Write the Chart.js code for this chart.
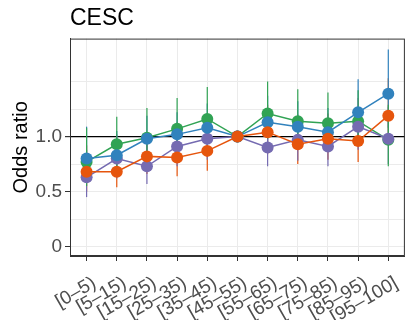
<!DOCTYPE html>
<html>
<head>
<meta charset="utf-8">
<script src="https://cdn.jsdelivr.net/npm/chart.js@4"></script>
<style>
  body { margin: 0; background: #fff; }
  canvas { display: block; }
</style>
</head>
<body>
<canvas id="orChart" width="411" height="320"></canvas>
<script>
// categories (percentile bins)
var categories = ['[0–5)', '[5–15)', '[15–25)', '[25–35)', '[35–45)', '[45–55)', '[55–65)', '[65–75)', '[75–85)', '[85–95)', '[95–100]'];

// odds ratios and 95% CI per series
var blueOR = [0.80, 0.83, 0.98, 1.02, 1.08, 1.00, 1.13, 1.09, 1.04, 1.22, 1.39];
var blueLo = [0.60, 0.66, 0.80, 0.85, 0.90, 1.00, 0.93, 0.90, 0.86, 0.98, 1.08];
var blueHi = [1.09, 1.05, 1.19, 1.22, 1.30, 1.00, 1.37, 1.32, 1.26, 1.52, 1.79];

var orangeOR = [0.68, 0.68, 0.82, 0.81, 0.87, 1.00, 1.04, 0.93, 0.98, 0.96, 1.19];
var orangeLo = [0.50, 0.54, 0.66, 0.64, 0.69, 1.00, 0.84, 0.75, 0.79, 0.77, 0.93];
var orangeHi = [0.92, 0.86, 1.02, 1.02, 1.09, 1.00, 1.29, 1.16, 1.21, 1.19, 1.53];

var greenOR = [0.77, 0.93, 0.99, 1.07, 1.16, 1.00, 1.21, 1.14, 1.12, 1.14, 0.97];
var greenLo = [0.55, 0.72, 0.78, 0.85, 0.93, 1.00, 0.98, 0.91, 0.90, 0.92, 0.73];
var greenHi = [1.08, 1.18, 1.26, 1.35, 1.45, 1.00, 1.50, 1.43, 1.40, 1.42, 1.29];

var purpleOR = [0.63, 0.80, 0.73, 0.91, 0.98, 1.00, 0.90, 0.97, 0.91, 1.09, 0.98];
var purpleLo = [0.45, 0.62, 0.57, 0.73, 0.79, 1.00, 0.73, 0.78, 0.73, 0.88, 0.75];
var purpleHi = [0.88, 1.02, 0.93, 1.13, 1.21, 1.00, 1.11, 1.20, 1.13, 1.35, 1.27];

var yTicks = [0, 0.25, 0.5, 0.75, 1, 1.25, 1.5];
var yLabels = { 0: '0', 0.5: '0.5', 1: '1.0' };

var FONT = 'Liberation Sans, Arial, sans-serif';

function series(label, color, vals, lo, hi) {
    return {
        label: label,
        data: vals.map(function (v, i) { return { x: i, y: v }; }),
        lo: lo,
        hi: hi,
        borderColor: color,
        backgroundColor: color,
        borderWidth: 1.5,
        pointRadius: 6,
        pointBorderWidth: 0,
        pointHoverRadius: 6,
        tension: 0
    };
}

// vertical CI segments, drawn under the points
var errorBars = {
    id: 'errorBars',
    beforeDatasetsDraw: function (chart) {
        var ctx = chart.ctx, xs = chart.scales.x, ys = chart.scales.y;
        ctx.save();
        chart.data.datasets.forEach(function (ds) {
            ctx.strokeStyle = ds.borderColor;
            ctx.lineWidth = 1.2;
            ds.data.forEach(function (p, i) {
                var x = xs.getPixelForValue(p.x);
                ctx.beginPath();
                ctx.moveTo(x, ys.getPixelForValue(ds.lo[i]));
                ctx.lineTo(x, ys.getPixelForValue(ds.hi[i]));
                ctx.stroke();
            });
        });
        ctx.restore();
    }
};

// full panel border like theme_bw
var panelBorder = {
    id: 'panelBorder',
    afterDraw: function (chart) {
        var a = chart.chartArea, ctx = chart.ctx;
        ctx.save();
        ctx.strokeStyle = '#333333';
        ctx.lineWidth = 1;
        ctx.strokeRect(a.left + 0.5, a.top + 0.5, a.right - a.left - 1, a.bottom - a.top - 1);
        ctx.restore();
    }
};

var ctx = document.getElementById('orChart').getContext('2d');
var orChart = new Chart(ctx, {
    type: 'line',
    data: {
        datasets: [
            series('orange', '#e6550d', orangeOR, orangeLo, orangeHi),
            series('blue', '#3182bd', blueOR, blueLo, blueHi),
            series('purple', '#756bb1', purpleOR, purpleLo, purpleHi),
            series('green', '#31a354', greenOR, greenLo, greenHi)
        ]
    },
    options: {
        responsive: false,
        animation: false,
        layout: { padding: { left: 0, right: 2, top: 0, bottom: 0 } },
        plugins: {
            legend: { display: false },
            tooltip: { enabled: false },
            title: {
                display: true,
                text: 'CESC',
                align: 'start',
                fullSize: false,
                color: '#000',
                font: { family: FONT, size: 23, weight: 'normal' },
                padding: { top: 5, bottom: 6 }
            }
        },
        scales: {
            x: {
                type: 'linear',
                min: -0.55,
                max: 10.55,
                afterBuildTicks: function (scale) {
                    scale.ticks = categories.map(function (c, i) { return { value: i }; });
                },
                afterFit: function (scale) { scale.height = 64; },
                ticks: {
                    autoSkip: false,
                    minRotation: 30,
                    maxRotation: 30,
                    padding: 11,
                    labelOffset: 8,
                    color: '#4d4d4d',
                    font: { family: FONT, size: 19 },
                    callback: function (v) { return categories[v]; }
                },
                grid: { color: '#ebebeb', lineWidth: 1, tickColor: '#333333', tickLength: 5 },
                border: { display: true, color: '#333333', width: 1 }
            },
            y: {
                type: 'linear',
                min: -0.085,
                max: 1.89,
                afterBuildTicks: function (scale) {
                    scale.ticks = yTicks.map(function (v) { return { value: v }; });
                },
                afterFit: function (scale) { scale.width = 70; },
                ticks: {
                    padding: 3,
                    color: '#4d4d4d',
                    font: { family: FONT, size: 19 },
                    callback: function (v) { return yLabels[v] !== undefined ? yLabels[v] : ''; }
                },
                grid: {
                    color: function (c) { return c.tick && c.tick.value === 1 ? '#000000' : '#ebebeb'; },
                    lineWidth: function (c) { return c.tick && c.tick.value === 1 ? 1.2 : 1; },
                    tickColor: function (c) { return c.tick && yLabels[c.tick.value] !== undefined ? '#333333' : 'rgba(0,0,0,0)'; },
                    tickLength: 5
                },
                border: { display: true, color: '#333333', width: 1 },
                title: {
                    display: true,
                    text: 'Odds ratio',
                    color: '#000',
                    font: { family: FONT, size: 20 },
                    padding: { top: 9, bottom: 0 }
                }
            }
        }
    },
    plugins: [errorBars, panelBorder]
});
</script>
</body>
</html>
